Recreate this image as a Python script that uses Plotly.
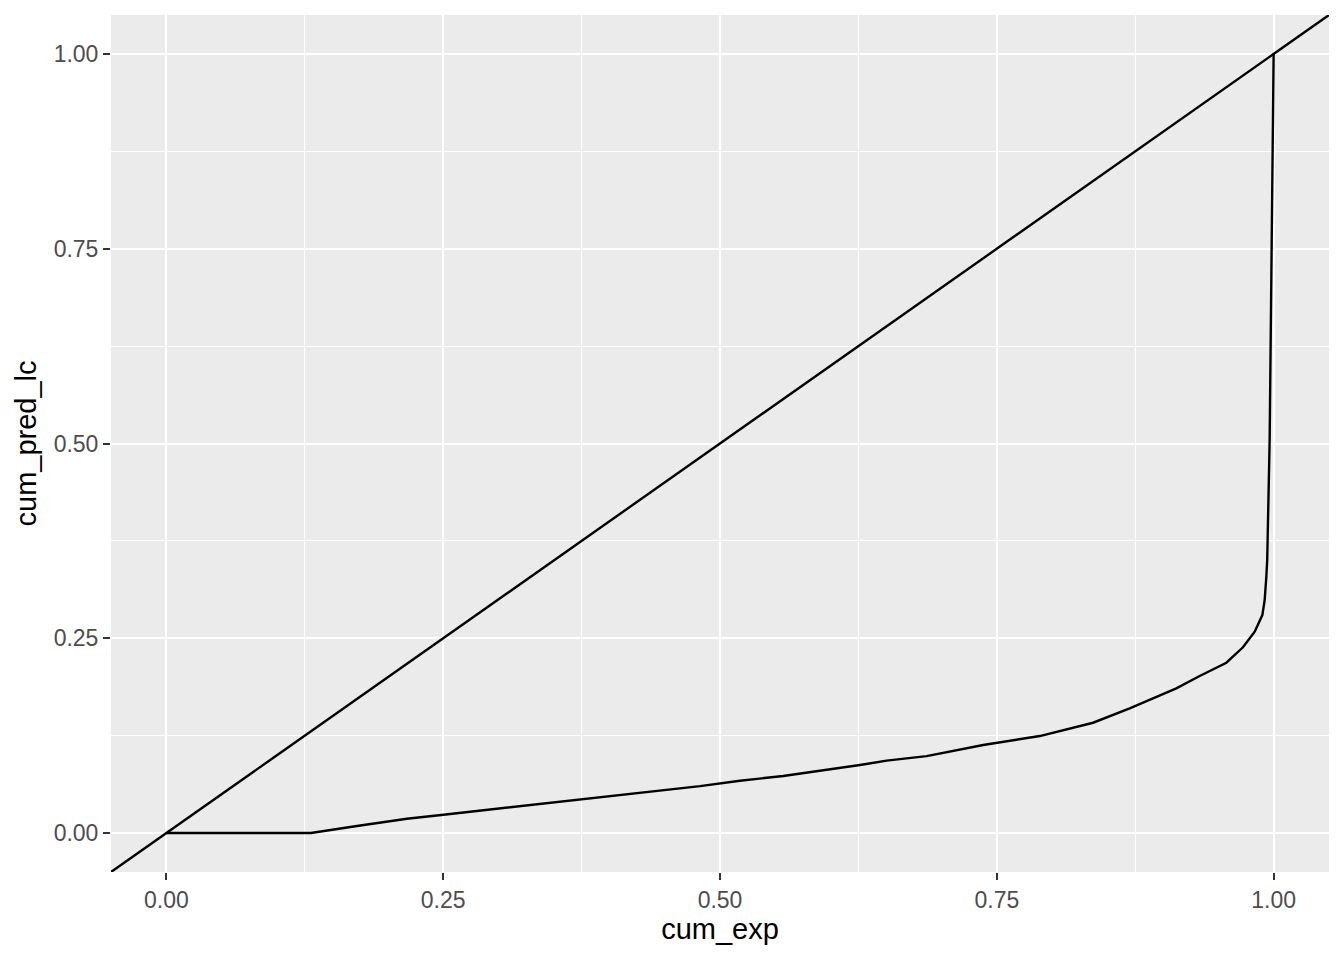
import plotly.graph_objects as go

# Cumulative curve
cum_exp = [0.0, 0.1306, 0.1721, 0.2172, 0.2503, 0.2834, 0.3285, 0.3736, 0.4278,
           0.482, 0.518, 0.5571, 0.6264, 0.6505, 0.6866, 0.7377, 0.7888, 0.8369,
           0.870, 0.8941, 0.9121, 0.9332, 0.9573, 0.9723, 0.9829, 0.9898, 0.9919,
           0.9934, 0.9942, 0.9964, 0.9982, 0.9994, 1.0]
cum_pred_lc = [0.0, 0.0, 0.0090, 0.0184, 0.0235, 0.0287, 0.0355, 0.0432, 0.0518,
               0.0603, 0.0672, 0.0732, 0.0873, 0.0929, 0.0988, 0.1130, 0.1245, 0.1416,
               0.1600, 0.1742, 0.1857, 0.2015, 0.2186, 0.2384, 0.2584, 0.2798, 0.2991,
               0.329, 0.3505, 0.5045, 0.7184, 0.8896, 1.0]

# Reference line y = x (slope/intercept)
abline_slope = 1.0
abline_intercept = 0.0

tick_vals = [0.0, 0.25, 0.5, 0.75, 1.0]
tick_text = ["0.00", "0.25", "0.50", "0.75", "1.00"]
minor_vals = [0.125, 0.375, 0.625, 0.875]
axis_range = [-0.05, 1.05]

FONT = "Liberation Sans, Arial, Helvetica, sans-serif"

fig = go.Figure()
ab_x = list(axis_range)
ab_y = [abline_intercept + abline_slope * v for v in ab_x]
fig.add_trace(go.Scatter(x=ab_x, y=ab_y, mode="lines",
                         line=dict(color="black", width=2.4), showlegend=False,
                         hoverinfo="skip"))
fig.add_trace(go.Scatter(x=cum_exp, y=cum_pred_lc, mode="lines",
                         line=dict(color="black", width=2.4), showlegend=False))

axis_common = dict(
    range=axis_range,
    tickvals=tick_vals,
    ticktext=tick_text,
    showgrid=True,
    gridcolor="white",
    gridwidth=2.4,
    zeroline=False,
    showline=False,
    ticks="outside",
    ticklen=7,
    tickwidth=2.2,
    tickcolor="#333333",
    tickfont=dict(family=FONT, size=23, color="#4D4D4D"),
    minor=dict(tickvals=minor_vals, showgrid=True,
               gridcolor="white", gridwidth=1.2, ticks=""),
)

fig.update_layout(
    width=1336, height=952,
    paper_bgcolor="white",
    plot_bgcolor="#EBEBEB",
    margin=dict(l=103, r=15, t=7, b=88),
    xaxis=dict(**axis_common,
               title=dict(text="cum_exp", font=dict(family=FONT, size=29, color="black"),
                          standoff=5)),
    yaxis=dict(**axis_common,
               title=dict(text="cum_pred_lc", font=dict(family=FONT, size=29, color="black"),
                          standoff=8)),
)

fig.write_html("out.html")
